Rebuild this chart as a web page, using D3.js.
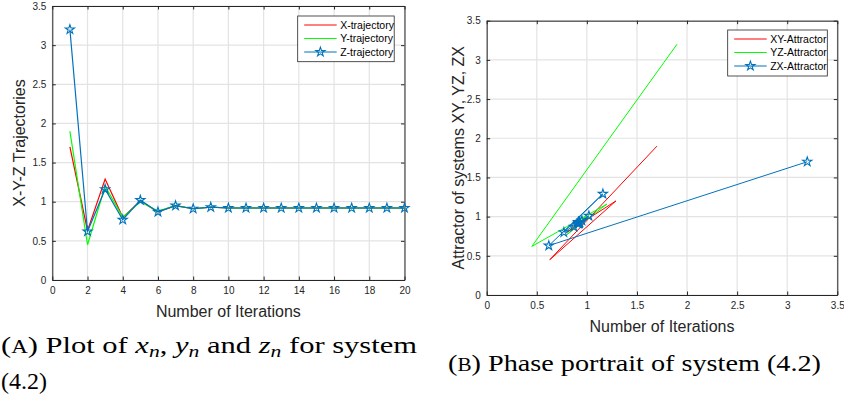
<!DOCTYPE html>
<html>
<head>
<meta charset="utf-8">
<script src="https://cdn.jsdelivr.net/npm/d3@7"></script>
<style>
  body { margin: 0; background: #fff; }
  svg { display: block; }
  .tick text { font-family: "Liberation Sans", Arial, sans-serif; font-size: 10px; fill: #262626; }
  .axis path, .axis line { stroke: #262626; }
  .lbl { font-family: "Liberation Sans", Arial, sans-serif; font-size: 16px; fill: #262626; }
  .leg { font-family: "Liberation Sans", Arial, sans-serif; font-size: 10.5px; fill: #000; }
  .cap { font-family: "Liberation Serif", "Times New Roman", serif; font-size: 24px; fill: #000; }
</style>
</head>
<body>
<div id="chart"></div>
<script>
// iterations 1..20
const iterations = [1, 2, 3, 4, 5, 6, 7, 8, 9, 10, 11, 12, 13, 14, 15, 16, 17, 18, 19, 20];
const xTraj = [1.70, 0.63, 1.29, 0.80, 1.01, 0.87, 0.95, 0.91, 0.93, 0.92, 0.92, 0.92, 0.92, 0.92, 0.92, 0.92, 0.92, 0.92, 0.92, 0.92];
const yTraj = [1.90, 0.45, 1.20, 0.80, 1.00, 0.88, 0.95, 0.91, 0.93, 0.92, 0.92, 0.92, 0.92, 0.92, 0.92, 0.92, 0.92, 0.92, 0.92, 0.92];
const zTraj = [3.20, 0.62, 1.16, 0.77, 1.02, 0.87, 0.95, 0.91, 0.93, 0.92, 0.92, 0.92, 0.92, 0.92, 0.92, 0.92, 0.92, 0.92, 0.92, 0.92];

const leftXTicks = [0, 2, 4, 6, 8, 10, 12, 14, 16, 18, 20];
const valueTicks = [0, 0.5, 1, 1.5, 2, 2.5, 3, 3.5];

const trajNames = ["X-trajectory", "Y-trajectory", "Z-trajectory"];
const attrNames = ["XY-Attractor", "YZ-Attractor", "ZX-Attractor"];
const colors = ["#ff0000", "#00ff00", "#0072bd"];

const svg = d3.select("#chart")
    .append("svg")
    .attr("width", 844)
    .attr("height", 398);

const star = d3.symbol().type(d3.symbolStar).size(26);

// grid + boxed axes, MATLAB style ticks pointing inward
function drawFrame(g, xScale, yScale, width, height, xTicks, yTicks) {
    g.append("g").selectAll("line").data(xTicks).enter().append("line")
        .attr("x1", d => xScale(d)).attr("x2", d => xScale(d))
        .attr("y1", 0).attr("y2", height)
        .attr("stroke", "#e3e3e3").attr("stroke-width", 1.2);
    g.append("g").selectAll("line").data(yTicks).enter().append("line")
        .attr("x1", 0).attr("x2", width)
        .attr("y1", d => yScale(d)).attr("y2", d => yScale(d))
        .attr("stroke", "#e3e3e3").attr("stroke-width", 1.2);

    g.append("g").attr("class", "axis")
        .attr("transform", "translate(0," + height + ")")
        .call(d3.axisBottom(xScale).tickValues(xTicks).tickFormat(String)
            .tickSizeInner(-3.5).tickSizeOuter(0).tickPadding(7));
    g.append("g").attr("class", "axis")
        .call(d3.axisLeft(yScale).tickValues(yTicks).tickFormat(String)
            .tickSizeInner(-3.5).tickSizeOuter(0).tickPadding(6));
    g.append("g").attr("class", "axis")
        .call(d3.axisTop(xScale).tickValues(xTicks).tickFormat("")
            .tickSizeInner(-3.5).tickSizeOuter(0));
    g.append("g").attr("class", "axis")
        .attr("transform", "translate(" + width + ",0)")
        .call(d3.axisRight(yScale).tickValues(yTicks).tickFormat("")
            .tickSizeInner(-3.5).tickSizeOuter(0));
}

function drawLegend(g, x, y, w, h, names) {
    const lg = g.append("g").attr("transform", "translate(" + x + "," + y + ")");
    lg.append("rect").attr("width", w).attr("height", h)
        .attr("fill", "#fff").attr("stroke", "#262626").attr("stroke-width", 0.8);
    names.forEach((name, i) => {
        const ry = 9 + i * 13.5;
        lg.append("line").attr("x1", 6.5).attr("x2", 39).attr("y1", ry).attr("y2", ry)
            .attr("stroke", colors[i]).attr("stroke-width", 1);
        if (i === 2) {
            lg.append("path").attr("d", star).attr("transform", "translate(22.7," + ry + ")")
                .attr("fill", "none").attr("stroke", colors[i]).attr("stroke-width", 1.1);
        }
        lg.append("text").attr("class", "leg").attr("x", 42.5).attr("y", ry + 3.8).text(name);
    });
}

function drawTrajectories() {
    const margin = { top: 6, left: 52.3 },
        width = 352.2, height = 274;
    const g = svg.append("g").attr("transform", "translate(" + margin.left + "," + margin.top + ")");

    const xScale = d3.scaleLinear().domain([0, 20]).range([0, width]);
    const yScale = d3.scaleLinear().domain([0, 3.5]).range([height, 0]);

    drawFrame(g, xScale, yScale, width, height, leftXTicks, valueTicks);

    const line = d3.line().x(d => xScale(d[0])).y(d => yScale(d[1]));
    [xTraj, yTraj, zTraj].forEach((series, i) => {
        const pts = iterations.map((it, j) => [it, series[j]]);
        g.append("path").datum(pts)
            .attr("fill", "none").attr("stroke", colors[i]).attr("stroke-width", 1.2)
            .attr("d", line);
        if (i === 2) {
            g.selectAll(".zstar").data(pts).enter().append("path")
                .attr("d", star)
                .attr("transform", d => "translate(" + xScale(d[0]) + "," + yScale(d[1]) + ")")
                .attr("fill", "none").attr("stroke", colors[i]).attr("stroke-width", 1.1);
        }
    });

    drawLegend(g, 297.7 - margin.left, 16 - margin.top, 96.5, 45.7, trajNames);

    g.append("text").attr("class", "lbl")
        .attr("x", width / 2).attr("y", 311).attr("text-anchor", "middle")
        .text("Number of Iterations");
    g.append("text").attr("class", "lbl")
        .attr("transform", "rotate(-90)")
        .attr("x", -137).attr("y", -27).attr("text-anchor", "middle")
        .text("X-Y-Z Trajectories");
}

function drawPhasePortrait() {
    const margin = { top: 20.7, left: 486.7 },
        width = 350.6, height = 274.3;
    const g = svg.append("g").attr("transform", "translate(" + margin.left + "," + margin.top + ")");

    const xScale = d3.scaleLinear().domain([0, 3.5]).range([0, width]);
    const yScale = d3.scaleLinear().domain([0, 3.5]).range([height, 0]);

    drawFrame(g, xScale, yScale, width, height, valueTicks, valueTicks);

    const line = d3.line().x(d => xScale(d[0])).y(d => yScale(d[1]));
    const pairs = [
        iterations.map((it, j) => [xTraj[j], yTraj[j]]),
        iterations.map((it, j) => [yTraj[j], zTraj[j]]),
        iterations.map((it, j) => [zTraj[j], xTraj[j]])
    ];
    pairs.forEach((pts, i) => {
        g.append("path").datum(pts)
            .attr("fill", "none").attr("stroke", colors[i]).attr("stroke-width", 1)
            .attr("d", line);
        if (i === 2) {
            g.selectAll(".zxstar").data(pts).enter().append("path")
                .attr("d", star)
                .attr("transform", d => "translate(" + xScale(d[0]) + "," + yScale(d[1]) + ")")
                .attr("fill", "none").attr("stroke", colors[i]).attr("stroke-width", 1.1);
        }
    });

    drawLegend(g, 727.7 - margin.left, 30 - margin.top, 99.6, 46, attrNames);

    g.append("text").attr("class", "lbl")
        .attr("x", width / 2).attr("y", 311).attr("text-anchor", "middle")
        .text("Number of Iterations");
    g.append("text").attr("class", "lbl")
        .attr("transform", "rotate(-90)")
        .attr("x", -137).attr("y", -23).attr("text-anchor", "middle")
        .text("Attractor of systems XY, YZ, ZX");
}

function drawCaptions() {
    const a = svg.append("text").attr("class", "cap").attr("x", 1).attr("y", 353)
        .attr("textLength", 416).attr("lengthAdjust", "spacingAndGlyphs");
    a.append("tspan").text("(");
    a.append("tspan").style("font-size", "18px").text("A");
    a.append("tspan").text(") Plot of ");
    a.append("tspan").style("font-style", "italic").text("x");
    a.append("tspan").style("font-style", "italic").style("font-size", "17px").attr("dy", 4).text("n");
    a.append("tspan").attr("dy", -4).text(", ");
    a.append("tspan").style("font-style", "italic").text("y");
    a.append("tspan").style("font-style", "italic").style("font-size", "17px").attr("dy", 4).text("n");
    a.append("tspan").attr("dy", -4).text(" and ");
    a.append("tspan").style("font-style", "italic").text("z");
    a.append("tspan").style("font-style", "italic").style("font-size", "17px").attr("dy", 4).text("n");
    a.append("tspan").attr("dy", -4).text(" for system");
    svg.append("text").attr("class", "cap").attr("x", 1).attr("y", 389).text("(4.2)");

    const b = svg.append("text").attr("class", "cap").attr("x", 448).attr("y", 371)
        .attr("textLength", 373).attr("lengthAdjust", "spacingAndGlyphs");
    b.append("tspan").text("(");
    b.append("tspan").style("font-size", "18px").text("B");
    b.append("tspan").text(") Phase portrait of system (4.2)");
}

drawTrajectories();
drawPhasePortrait();
drawCaptions();
</script>
</body>
</html>
